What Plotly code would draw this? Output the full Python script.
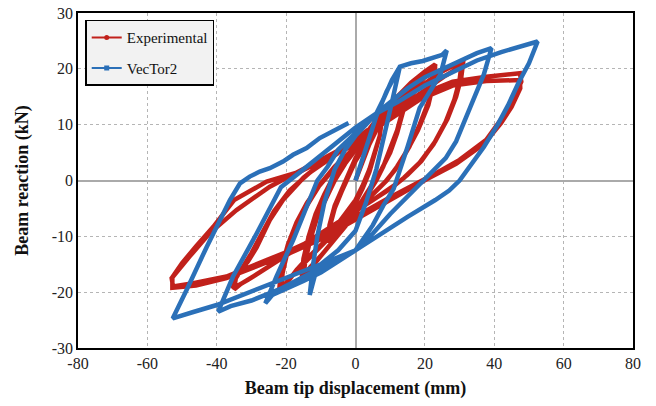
import plotly.graph_objects as go

# Experimental (red) hysteresis: displacement (mm), force (kN)
exp_disp = [0, 2, 4, 6, 7.5, 7, 5.5, 4, 2, 0, -3, -6, -8, -7.5, -6, -4, -2, 0, 3, 5.5, 7.5,
            7, 5.5, 4, 2, 0, -3, -6, -8, -7.5, -6, -4, -2, 0, 3, 6,
            9, 12, 14.5, 14, 12, 10, 8, 6, 3, 0, -4, -8, -12, -15,
            -14.5, -13, -11, -8.5, -6, -3, 0, 4, 8, 11, 14.5,
            14, 12, 10, 7.5, 5.5, 2, -2, -6, -10, -13, -15.5,
            -15, -13.5, -11.5, -9, -6.5, -3, 0, 4, 8, 12, 16, 20, 23,
            22.5, 21, 18.5, 15.5, 12, 9, 5, 0, -5, -10, -14, -17, -19.5, -21.5,
            -21, -19.5, -17, -14, -10.5, -7, -3, 0, 5, 10, 15, 19, 23,
            22.5, 21, 18, 15, 11.5, 8.5, 4, 0, -5, -10, -14, -17.5, -20, -22,
            -21.5, -19.5, -17, -14, -10, -6, 0, 6, 12, 18, 24, 28, 31,
            30.5, 29, 26.5, 23, 19, 15, 12, 5, -5, -15, -22, -27, -31, -35.3,
            -35, -33, -31, -28.5, -24.7, -20.9, -15, -8, 0, 10, 20, 26, 30.5,
            30, 28.5, 26, 22.5, 18.5, 14, 10, 0, -10, -18, -24, -29, -33, -35,
            -34.5, -32.5, -30, -27, -23.5, -19, -13, -6, 0, 10, 18.5, 28, 37.7, 47.4,
            47.8, 45.5, 42.5, 37.7, 30, 21.4, 10, 0, -10, -19.9, -27.6, -37.2, -46.8, -52.6,
            -53, -50.5, -47.8, -42, -34.3, -24.7, -16, -7.4, 0, 10, 18.5, 28, 37.7, 47.4,
            47.5, 45, 42, 37, 29, 20.5, 10, 0, -10, -20, -28, -37.2, -46, -52.8,
            -52.8, -50, -46, -41, -35, -25.6, -16, -7.4, 0]
exp_force = [0, 3.5, 6.5, 9, 10.5, 8, 4.5, 1.5, -1.5, -4, -6.5, -9, -11, -8.5, -5, -2, 1, 3.5, 6.5, 9, 10.5,
             8, 5, 2, -1, -3.5, -6, -8.5, -11, -8, -4.5, -1.5, 1.5, 4, 7, 10,
             12, 14.5, 16, 13.5, 9, 5.5, 2.5, 0, -3, -6, -9, -12, -15, -17.3,
             -14.5, -10.5, -6.5, -3, 0, 3, 5.5, 9, 12, 14.5, 16.3,
             13, 8.5, 5, 2, 0, -3.5, -7, -10.5, -13.5, -15.5, -17.5,
             -14, -10, -6, -2.5, 0.5, 3.5, 6, 9.5, 12.5, 15, 17.5, 19.5, 20.8,
             18, 14, 10, 6, 2.5, 0, -2.5, -5.5, -8.5, -11.5, -14, -16, -18, -19.8,
             -16.5, -12.5, -8, -4.5, -1, 1.5, 4, 6, 9, 12.5, 15.5, 18, 20.3,
             17.5, 13.5, 9, 5.5, 2, -0.3, -3, -5.5, -8.5, -11.8, -14.3, -16.5, -18.3, -19.8,
             -16, -11.5, -7.5, -4, -0.5, 2.5, 6, 9.5, 13, 16.5, 19.2, 20.5, 21,
             18.5, 15, 11, 7, 3.5, 1, -0.5, -3.5, -7.5, -11.5, -14.3, -16.3, -17.8, -19.3,
             -17.8, -16, -14.5, -12, -7.1, -3.5, 0.5, 4, 7.5, 12, 16.3, 18.8, 20.5,
             18, 14.5, 10.5, 6.5, 3.2, 0.5, -1.5, -5.5, -9.5, -12.8, -15, -17, -18.5, -19.5,
             -17.5, -15.5, -13, -9.5, -5.5, -1.8, 1.5, 4.5, 7, 11.5, 15.3, 17.7, 18.6, 19.2,
             17.7, 14.5, 11.4, 7.3, 3.7, 0.7, -3, -6.5, -10, -12.8, -14.8, -17.2, -18.4, -19,
             -17.5, -15.5, -13.6, -9.4, -5.3, -1.1, 1.8, 4.5, 7, 11, 14.5, 17, 17.8, 18,
             16.5, 13.2, 10.3, 6.5, 3, 0.2, -3.5, -7, -10.5, -13.3, -15.3, -17.5, -18.8, -19.2,
             -17.3, -14.8, -11.8, -8.3, -3.5, -0.2, 1.6, 4.3, 6.5]

# VecTor2 (blue) hysteresis
vt_disp = [0, 3, 6, 9, 12.8,
           10.5, 8, 6, 3, 0, -5, -10, -11.5, -13.2,
           -12.2, -11, -9, -6, -3, 0, 3, 6, 8, 10.5, 12.8, 16, 19.4, 22, 25, 26.3,
           24.5, 22, 18.5, 15, 11, 8, 5, 0, -5, -10, -15, -20, -24, -26,
           -22.8, -18, -13.2, -11, -8, -5, 0, 6, 10, 15, 20, 25, 30, 35, 39.2,
           37, 33, 29, 26, 20.5, 15, 10, 5, 0, -8, -15, -22, -30, -36, -39.6,
           -35.3, -28.5, -23.7, -21.5, -16, -10.3, -5, 0, 6, 12, 20, 28, 35, 42, 48, 52.5,
           50, 47, 44, 41, 37, 33, 30, 27, 23, 15, 10, 5, 0, -10, -20, -30, -40, -47, -52.7,
           -48.7, -42.9, -36.2, -33.3, -30.5, -27.6, -24.7, -20.9, -18, -14.1, -10.3, -6, -2]
vt_force = [0, 6, 11.5, 16, 20.4,
            14, 7, 2, -4, -9, -12.5, -15, -16.5, -20.5,
            -15, -10, -4, 2, 5.5, 8, 10, 12, 14.5, 18, 20.4, 21, 21.4, 22, 22.5, 23.3,
            19, 16.5, 13, 6, -1.5, -4.5, -8, -12.5, -14.5, -16.5, -18, -19.5, -20.5, -22,
            -17.2, -10.7, -3.5, 0, 2.5, 5.5, 8.5, 12, 14, 16.5, 18.5, 20, 21.5, 22.8, 23.7,
            19, 13, 7, 4, 0.5, -3, -6, -9.5, -12.5, -15, -17.3, -19.5, -21.5, -22.5, -23.5,
            -17.2, -9.5, -3.5, -1.2, 1.5, 4.3, 7, 9.5, 12, 14, 17, 19.5, 21.5, 23, 24, 24.9,
            21, 17.5, 13.5, 10, 6, 2.5, 0, -1.8, -3.5, -6.5, -8.5, -10.5, -12.5, -15, -17.5, -20, -22.3, -23.6, -24.7,
            -19.6, -11.9, -3.5, -0.5, 0.7, 1.6, 2.2, 3.4, 4.6, 5.8, 7.6, 9, 10.3]

x_ticks = [-80, -60, -40, -20, 0, 20, 40, 60, 80]
x_labels = ["-80", "-60", "-40", "-20", "0", "20", "40", "60", "80"]
y_ticks = [-30, -20, -10, 0, 10, 20, 30]
y_labels = ["-30", "-20", "-10", "0", "10", "20", "30"]

RED = "#c1211b"
BLUE = "#2b70b8"
FONT = "Liberation Serif"

fig = go.Figure()
fig.add_trace(go.Scatter(x=exp_disp, y=exp_force, name="Experimental", mode="lines",
                         line=dict(color=RED, width=4.5), showlegend=False))
fig.add_trace(go.Scatter(x=vt_disp, y=vt_force, name="VecTor2", mode="lines",
                         line=dict(color=BLUE, width=4.5), showlegend=False))
# legend entries (thin line with a small marker, as in the original key)
fig.add_trace(go.Scatter(x=[None], y=[None], name="Experimental", mode="lines+markers",
                         line=dict(color=RED, width=2), marker=dict(size=5, symbol="circle", color=RED),
                         legendgroup="a"))
fig.add_trace(go.Scatter(x=[None], y=[None], name="VecTor2", mode="lines+markers",
                         line=dict(color=BLUE, width=2), marker=dict(size=5, symbol="square", color=BLUE),
                         legendgroup="b"))

axis_common = dict(showgrid=True, griddash="dot", gridcolor="#b5b5b5", gridwidth=1,
                   zeroline=True, zerolinecolor="#aaaaaa", zerolinewidth=1.5,
                   showline=True, linecolor="black", linewidth=1.5, mirror=True,
                   tickfont=dict(family=FONT, size=16, color="#222"), ticks="",
                   ticklabeloverflow="allow", automargin=False)

fig.update_xaxes(range=[-80, 80], tickvals=x_ticks, ticktext=x_labels, **axis_common,
                 title=dict(text="<b>Beam tip displacement (mm)</b>", font=dict(family=FONT, size=18, color="#111"), standoff=10))
fig.update_yaxes(range=[-30, 30], tickvals=y_ticks, ticktext=y_labels, **axis_common,
                 title=dict(text="<b>Beam reaction (kN)</b>", font=dict(family=FONT, size=18, color="#111"), standoff=18))

fig.update_layout(
    width=656, height=406,
    margin=dict(l=78, r=23, t=13, b=58),
    plot_bgcolor="white", paper_bgcolor="white",
    showlegend=True,
    legend=dict(x=0.013, y=0.98, xanchor="left", yanchor="top",
                bgcolor="#f2f2f2", bordercolor="black", borderwidth=1.5,
                font=dict(family=FONT, size=15, color="#111"),
                tracegroupgap=8, traceorder="grouped", itemwidth=30),
)

fig.write_html("out.html", config={"displayModeBar": False},
               post_script="document.body.style.margin='0';document.body.style.overflow='hidden';")
